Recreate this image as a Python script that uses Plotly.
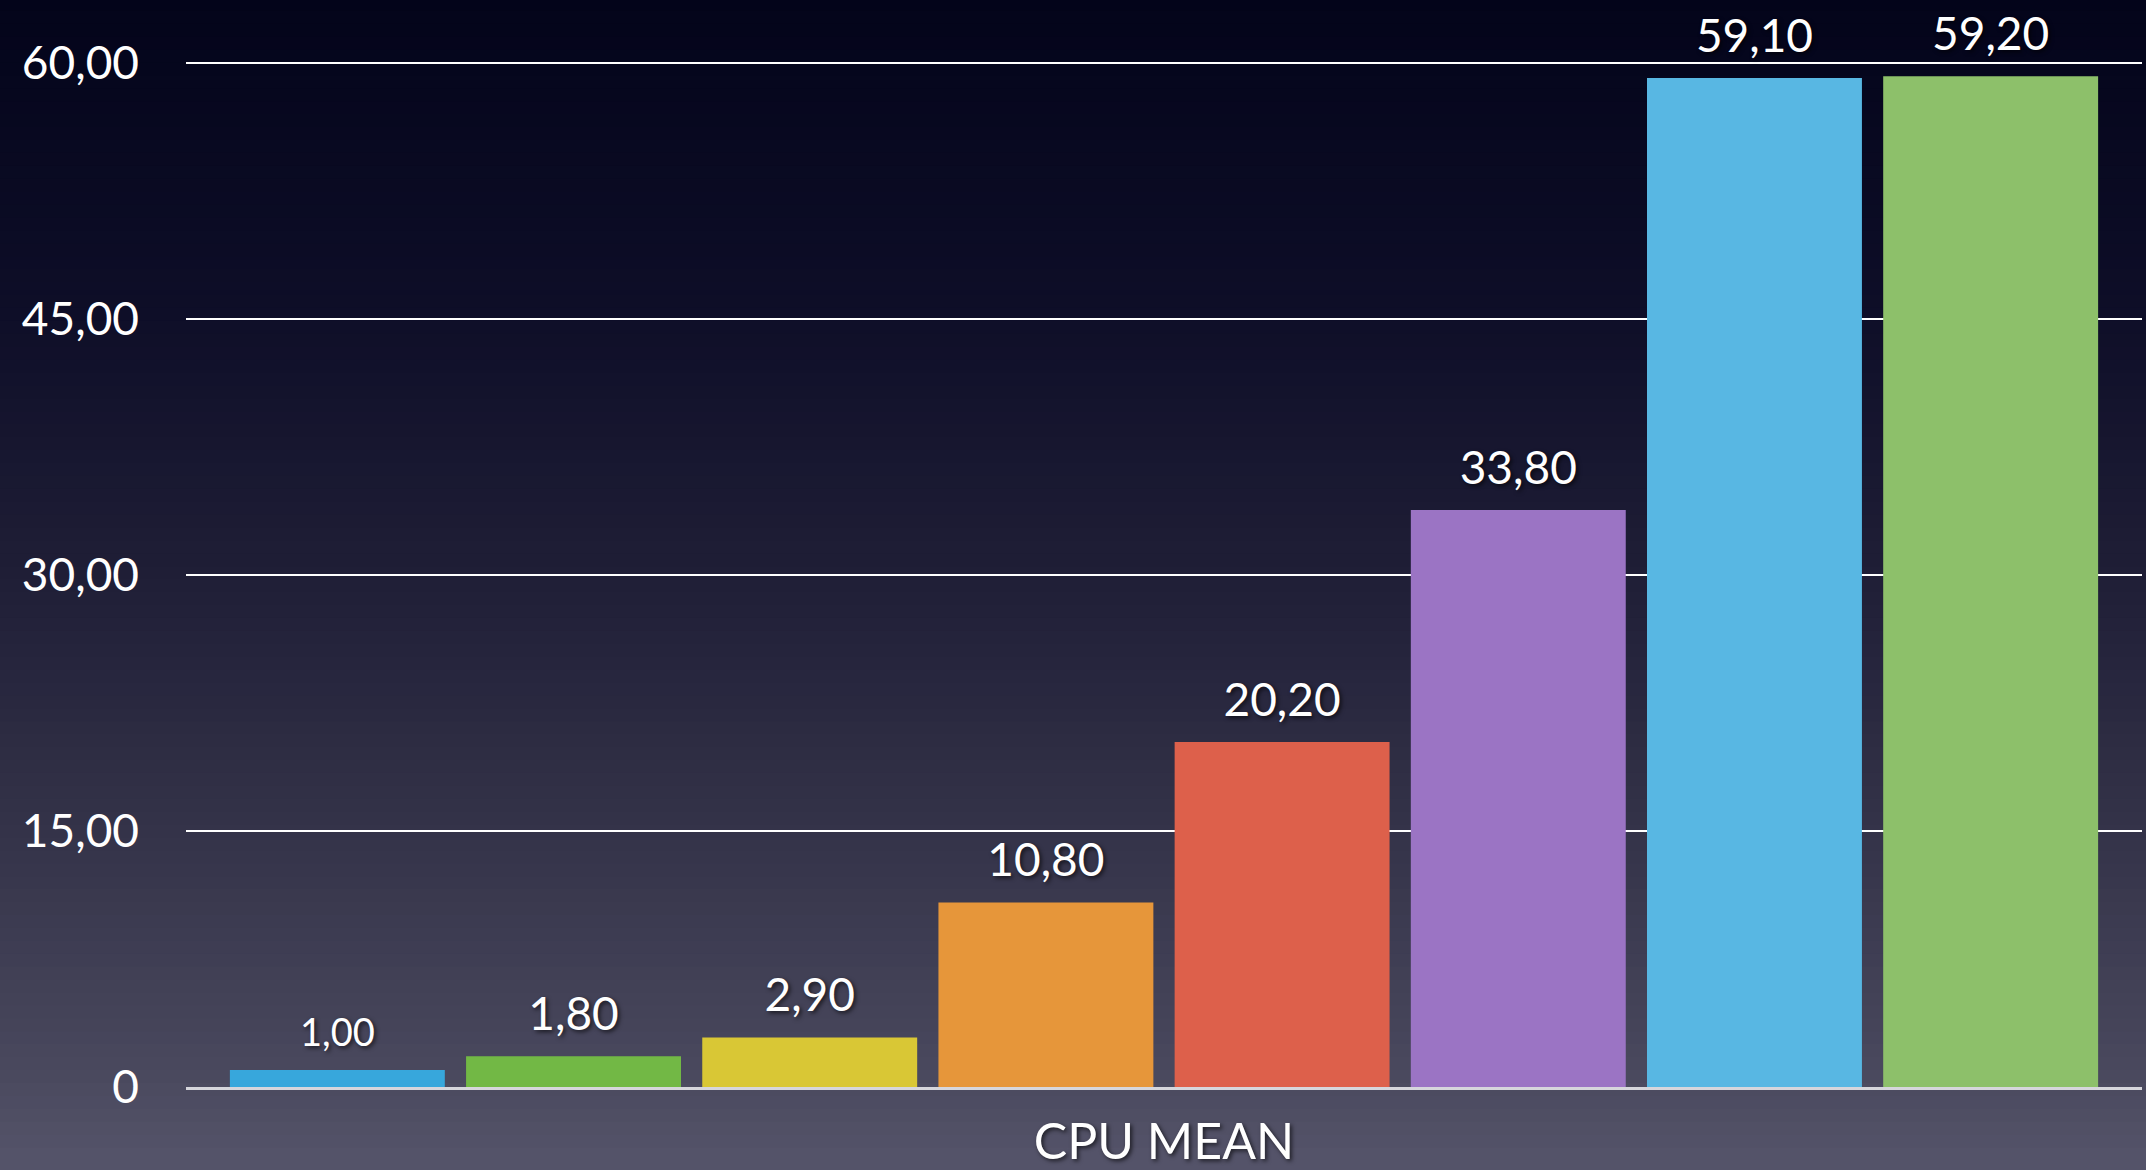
import plotly.graph_objects as go

# ---- data ----
category = ["CPU MEAN"]
series_names = ["Serie 1", "Serie 2", "Serie 3", "Serie 4", "Serie 5", "Serie 6", "Serie 7", "Serie 8"]
series_values = [1.00, 1.80, 2.90, 10.80, 20.20, 33.80, 59.10, 59.20]
series_colors = ["#37a7dc", "#72b845", "#d9c735", "#e6963a", "#dd604b", "#9b74c4", "#58b7e3", "#8dc06a"]
label_sizes = [38, 46, 46, 46, 46, 46, 46, 46]
y_tickvals = [0, 15, 30, 45, 60]
y_ticktext = ["0", "15,00", "30,00", "45,00", "60,00"]

W, H = 2146, 1170
FONT = "Lato, 'Open Sans', sans-serif"
shadow = "2px 2px 4px rgba(0,0,0,0.65)"


def fmt(v):
    return f"{v:.2f}".replace(".", ",")


fig = go.Figure()
for name, val, col in zip(series_names, series_values, series_colors):
    fig.add_trace(go.Bar(
        x=category, y=[val], name=name,
        marker=dict(color=col, line=dict(width=0)),
        showlegend=False, hoverinfo="skip",
    ))

# value labels: grouped scatter text placed above each bar
for name, val, ls in zip(series_names, series_values, label_sizes):
    fig.add_trace(go.Scatter(
        x=category, y=[val], name=name, mode="markers+text",
        marker=dict(size=22, opacity=0),
        text=[fmt(val)], textposition="top center",
        textfont=dict(family=FONT, size=ls, color="white", shadow=shadow),
        cliponaxis=False, showlegend=False, hoverinfo="skip",
    ))

# background vertical gradient (styling only)
MB = 76
plot_h = H - MB
stops = [(0, (3, 4, 26)), (319, (14, 14, 40)), (575, (31, 30, 54)),
         (830, (51, 50, 72)), (1087, (74, 73, 94)), (1170, (85, 84, 106))]
shapes = []
N = 90
for i in range(N):
    y0 = H * i / N
    y1 = H * (i + 1) / N
    ym = (y0 + y1) / 2
    c = stops[-1][1]
    for (a, ca), (b, cb) in zip(stops[:-1], stops[1:]):
        if a <= ym <= b:
            t = (ym - a) / (b - a)
            c = tuple(int(round(ca[k] + (cb[k] - ca[k]) * t)) for k in range(3))
            break
    shapes.append(dict(type="rect", xref="paper", yref="paper",
                       x0=-0.2, x1=1.2,
                       y0=(plot_h - y1) / plot_h - (0.1 if i == N - 1 else 0.0),
                       y1=(plot_h - y0) / plot_h + (0.002 if i else 0.1),
                       line=dict(width=0), fillcolor=f"rgb{c}", layer="below"))

top_val = plot_h / ((plot_h - 63) / 60)

fig.update_layout(
    width=W, height=H,
    margin=dict(l=186, r=4, t=0, b=MB),
    paper_bgcolor="#55546a",
    plot_bgcolor="rgba(0,0,0,0)",
    barmode="group",
    bargap=0.034,
    bargroupgap=0.09,
    scattermode="group",
    scattergap=0.034,
    font=dict(family=FONT, color="white"),
    shapes=shapes,
    xaxis=dict(
        showgrid=False, zeroline=False,
        showline=True, linecolor="#d6d6dc", linewidth=3,
        ticks="", tickfont=dict(size=50, color="white", shadow=shadow),
        ticklabelstandoff=9,
        range=[-0.5, 0.5],
    ),
    yaxis=dict(
        range=[0, top_val],
        tickvals=y_tickvals, ticktext=y_ticktext,
        showgrid=True, gridcolor="white", gridwidth=2,
        zeroline=False, showline=False, ticks="",
        tickfont=dict(size=46, color="white"),
        ticklabelstandoff=46,
    ),
)

fig.write_html(
    "out.html",
    config={"displayModeBar": False},
    post_script="document.body.style.margin='0';document.body.style.overflow='hidden';",
)
